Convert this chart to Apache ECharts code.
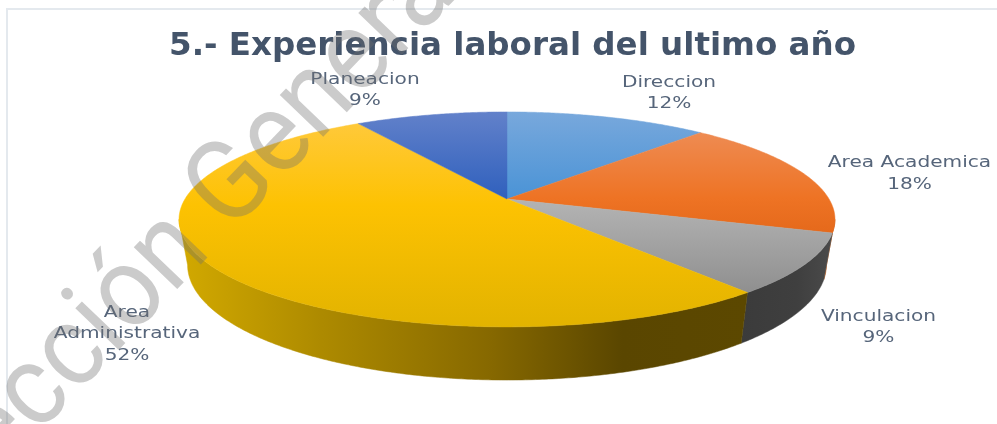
<!DOCTYPE html>
<html><head><meta charset="utf-8">
<style>html,body{margin:0;padding:0;background:#fff}#c{width:997px;height:424px;filter:blur(0.5px)}</style>
<script src="https://cdn.jsdelivr.net/npm/echarts@6/dist/echarts.min.js"></script>
</head><body><div id="c"></div>
<script>
const titleText = '5.- Experiencia laboral del ultimo año';
const categories = ['Direccion','Area Academica','Vinculacion','Area Administrativa','Planeacion'];
const percentages = [12,18,9,52,9];
const watermarkText = 'Dirección General';

const topStops = [
  [[0,'#78a8dc'],[1,'#4a93d6'],112,199],
  [[0,'#ee8b52'],[0.65,'#ee7324'],[1,'#e5691b'],133,233],
  [[0,'#b4b4b4'],[1,'#8f8f8f'],199,293],
  [[0,'#ffc939'],[0.4,'#fdc202'],[1,'#e2b300'],124,327],
  [[0,'#6281ca'],[1,'#2f60bd'],112,199]
];
const wallStops = [
  null,
  [[0,'#c4601c'],[1,'#c4601c'],825,836],
  [[0,'#3b3b3b'],[0.6,'#3f3f3f'],[1,'#4b4b4b'],741,834],
  [[0,'#d2a900'],[0.25,'#ad8a00'],[0.55,'#866800'],[0.78,'#5a4600'],[1,'#5c4800'],180,747],
  null
];
const labelAnchors = [[669,93],[909.5,173.5],[878.5,327],[127,334],[365,90]];

const K = 0.19, CX = 507;
const topDisk = {r:322, b:103.6, c:199};
const lowDisk = {r:313.6, b:111, c:243};
function project(d, deg){
  const t = deg*Math.PI/180, x = Math.sin(t), y = -Math.cos(t), w = 1-K*y;
  return [CX + d.r*x/w, d.c + d.b*y/w];
}
const VIS0 = Math.acos(-K)*180/Math.PI, VIS1 = 360-VIS0;
function arc(d,a,b){
  const n = Math.max(2,Math.ceil(Math.abs(b-a)*2)), out=[];
  for(let i=0;i<=n;i++) out.push(project(d,a+(b-a)*i/n));
  return out;
}
function range(i){
  let s=0; for(let j=0;j<i;j++) s+=percentages[j];
  const tot=percentages.reduce((p,q)=>p+q,0);
  return [s/tot*360,(s+percentages[i])/tot*360];
}
function vGrad(st){
  const n=st.length; return new echarts.graphic.LinearGradient(0,st[n-2],0,st[n-1],st.slice(0,n-2).map(p=>({offset:p[0],color:p[1]})),true);
}
function hGrad(st){
  const n=st.length; return new echarts.graphic.LinearGradient(st[n-2],0,st[n-1],0,st.slice(0,n-2).map(p=>({offset:p[0],color:p[1]})),true);
}
function renderTop(params,api){
  const i=params.dataIndex, [a,b]=range(i), g=vGrad(topStops[i]);
  const pts=[[CX,topDisk.c]].concat(arc(topDisk,a,b));
  const nm=categories[i].length>16?categories[i].replace(' ','\n'):categories[i];
  return {type:'group',children:[
    {type:'polygon',shape:{points:pts},style:{fill:g,stroke:g,lineWidth:0.5}},
    {type:'text',x:labelAnchors[i][0],y:labelAnchors[i][1],scaleX:1.22,z2:5,style:{text:nm+'\n'+api.value(0)+'%',align:'center',verticalAlign:'middle',
      font:'16.5px "DejaVu Sans"',lineHeight:21.5,fill:'#56657a'}}
  ]};
}
function renderWall(params,api){
  const i=params.dataIndex, [a0,b0]=range(i), a=Math.max(a0,VIS0), b=Math.min(b0,VIS1);
  if(b<=a||!wallStops[i]) return {type:'group',children:[]};
  const g=hGrad(wallStops[i]);
  const pts=arc(topDisk,a,b).concat(arc(lowDisk,b,a));
  return {type:'polygon',shape:{points:pts},style:{fill:g,stroke:g,lineWidth:0.5}};
}
const chart=echarts.init(document.getElementById('c'),null,{renderer:'canvas'});
chart.setOption({
  animation:false,
  title:{text:titleText,left:507.5,textAlign:'center',top:25,textStyle:{fontFamily:'DejaVu Sans',fontWeight:'bold',fontSize:32.5,color:'#44546a'}},
  series:[
    {type:'custom',coordinateSystem:'none',z:1,silent:true,data:percentages,renderItem:renderWall},
    {type:'custom',coordinateSystem:'none',z:2,silent:true,data:percentages,renderItem:renderTop}
  ],
  graphic:[
    {type:'polyline',z:0,shape:{points:[[997,9],[7,9],[7,424]]},style:{stroke:'#e4e9ee',lineWidth:2,fill:null}},
    {type:'text',z:50,x:-70,y:588,rotation:46.2*Math.PI/180,scaleX:0.92,silent:true,
     style:{text:watermarkText,font:'400 114px Roboto',verticalAlign:'bottom',fill:'rgba(110,110,110,0.36)'}}
  ]
});
</script></body></html>
